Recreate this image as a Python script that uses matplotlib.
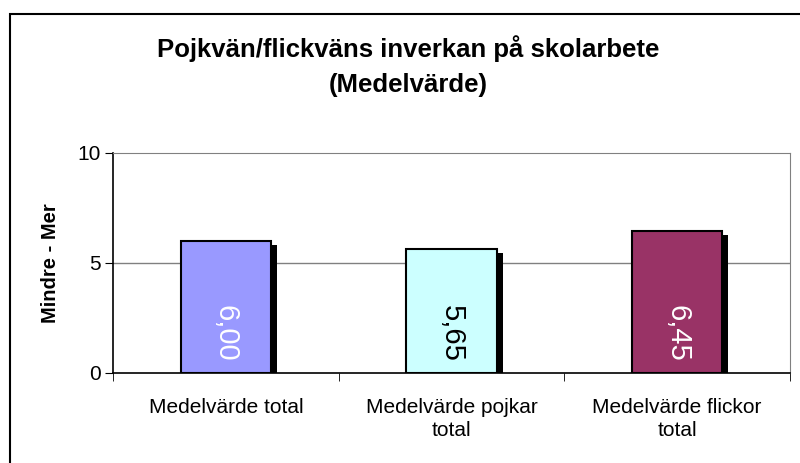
import matplotlib.pyplot as plt
import numpy as np
from matplotlib.patches import Rectangle

# data
categories = ['Medelvärde total', 'Medelvärde pojkar\ntotal', 'Medelvärde flickor\ntotal']
values = [6.00, 5.65, 6.45]
labels = ['6,00', '5,65', '6,45']
colors = ['#9999FF', '#CCFFFF', '#993366']
label_colors = ['white', 'black', 'white']

fig = plt.figure(figsize=(8, 4.63), dpi=100)
plt.rcParams['font.family'] = ['Liberation Sans', 'DejaVu Sans']

# outer chart frame
fig.patches.append(Rectangle((10 / 800, -0.1), 1.2, (463 - 14) / 463 + 0.1,
                             transform=fig.transFigure, fill=False,
                             edgecolor='black', linewidth=1.5))

ax = fig.add_axes([113 / 800, 90 / 463, 677 / 800, 220 / 463])
x = np.arange(len(categories))

# drop shadows behind bars
ax.bar(x + 0.027, np.array(values) - 0.18, width=0.4, color='black', zorder=2)
ax.bar(x, values, width=0.4, color=colors, edgecolor='black', linewidth=1.5, zorder=3)

for xi, lab, c in zip(x, labels, label_colors):
    ax.text(xi, 0.5, lab, rotation=-90, ha='center', va='bottom',
            fontsize=21, color=c, zorder=4)

ax.set_xlim(-0.5, 2.5)
ax.set_ylim(0, 10)
ax.set_yticks([0, 5, 10])
ax.tick_params(axis='y', labelsize=15, length=6, direction='out', pad=3)
ax.set_xticks(x)
ax.set_xticklabels(categories, fontsize=15, linespacing=1.3)
ax.tick_params(axis='x', length=0, pad=18)
ax.set_xticks([-0.5, 0.5, 1.5, 2.5], minor=True)
ax.tick_params(axis='x', which='minor', length=6, direction='out')

ax.axhline(5, color='#808080', linewidth=1, zorder=1)
ax.spines['top'].set_color('#808080')
ax.spines['right'].set_color('#808080')
ax.spines['left'].set_linewidth(1.2)
ax.spines['bottom'].set_linewidth(1.2)

ax.set_ylabel('Mindre - Mer', fontsize=14.5, fontweight='bold', labelpad=12)

fig.text(408 / 800, 1 - 66 / 463, 'Pojkvän/flickväns inverkan på skolarbete\n(Medelvärde)',
         ha='center', va='center', fontsize=18.5, fontweight='bold', linespacing=1.6)

fig.savefig('out.png', dpi=100)
